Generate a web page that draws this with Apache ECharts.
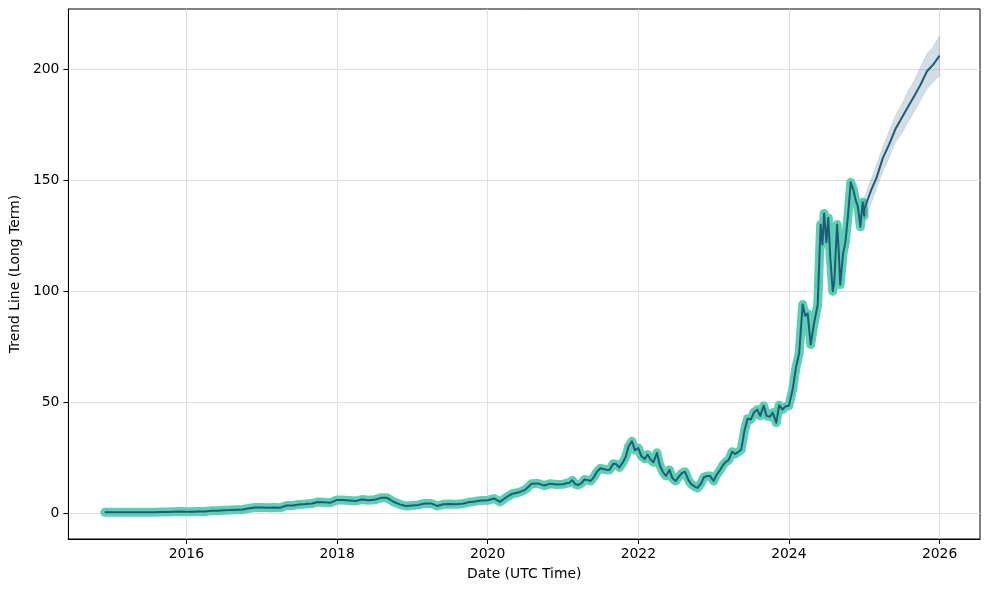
<!DOCTYPE html>
<html>
<head>
<meta charset="utf-8">
<script src="https://cdn.jsdelivr.net/npm/echarts@6/dist/echarts.min.js"></script>
<style>html,body{margin:0;padding:0;background:#fff}#c{width:989px;height:590px}</style>
</head>
<body>
<div id="c"></div>
<script>
// ---- Historical (observed) data ----
const histDates = [
 '2014-12-01','2015-01-01','2015-02-01','2015-03-01','2015-04-01','2015-05-01','2015-06-01','2015-07-01','2015-08-01','2015-09-01','2015-10-01','2015-11-01','2015-12-01',
 '2016-01-01','2016-02-01','2016-03-01','2016-04-01','2016-05-01','2016-06-01','2016-07-01','2016-08-01','2016-09-01','2016-10-01','2016-11-01','2016-12-01',
 '2017-01-01','2017-02-01','2017-03-01','2017-04-01','2017-05-01','2017-06-01','2017-07-01','2017-08-01','2017-09-01','2017-10-01','2017-11-01','2017-12-01',
 '2018-01-01','2018-02-01','2018-03-01','2018-04-01','2018-05-01','2018-06-01','2018-07-01','2018-08-01','2018-09-01','2018-10-01','2018-11-01','2018-12-01',
 '2019-01-01','2019-02-01','2019-03-01','2019-04-01','2019-05-01','2019-06-01','2019-07-01','2019-08-01','2019-09-01','2019-10-01','2019-11-01','2019-12-01',
 '2020-01-01','2020-02-01','2020-03-01','2020-04-01','2020-05-01','2020-06-01','2020-07-01','2020-08-01','2020-09-01','2020-10-01','2020-11-01','2020-12-01',
 '2021-01-01','2021-01-15','2021-02-01','2021-02-15','2021-03-01','2021-03-15','2021-04-01','2021-04-15','2021-05-01','2021-05-15','2021-06-01','2021-06-15',
 '2021-07-01','2021-07-15','2021-08-01','2021-08-15','2021-09-01','2021-09-15','2021-10-01','2021-10-15','2021-11-01','2021-11-15','2021-12-01','2021-12-15',
 '2022-01-01','2022-01-15','2022-02-01','2022-02-15','2022-03-01','2022-03-15','2022-04-01','2022-04-15','2022-05-01','2022-05-15','2022-06-01','2022-06-15',
 '2022-07-01','2022-07-15','2022-08-01','2022-08-15','2022-09-01','2022-09-15','2022-10-01','2022-10-15','2022-11-01','2022-11-15','2022-12-01','2022-12-15',
 '2023-01-01','2023-01-15','2023-02-01','2023-02-15','2023-03-01','2023-03-15','2023-04-01','2023-04-15','2023-05-01','2023-05-15','2023-06-01','2023-06-15',
 '2023-07-01','2023-07-15','2023-08-01','2023-08-15','2023-09-01','2023-09-15','2023-10-01','2023-10-15','2023-11-01','2023-11-15','2023-12-01','2023-12-15',
 '2024-01-01','2024-01-20','2024-02-05','2024-02-20','2024-03-08','2024-03-20','2024-04-01','2024-04-16','2024-05-01','2024-05-20',
 '2024-06-03','2024-06-12','2024-06-20','2024-07-01','2024-07-10','2024-07-20','2024-08-01','2024-08-08','2024-08-22','2024-08-30',
 '2024-09-06','2024-09-20','2024-10-01','2024-10-15','2024-10-27','2024-11-08','2024-11-20','2024-12-01','2024-12-13','2024-12-24','2024-12-31'
];
const histValues = [
 0.50,0.50,0.55,0.53,0.55,0.55,0.51,0.50,0.55,0.61,0.70,0.76,0.82,
 0.73,0.78,0.89,0.89,1.17,1.17,1.43,1.53,1.71,1.78,2.30,2.67,
 2.73,2.53,2.72,2.60,3.60,3.61,4.06,4.22,4.47,5.17,5.00,4.84,
 6.10,6.00,5.79,5.62,6.25,5.92,6.12,7.02,7.03,5.27,4.08,3.34,
 3.59,3.85,4.49,4.52,3.38,4.11,4.22,4.19,4.35,5.03,5.42,5.88,
 5.91,6.74,5.20,7.31,8.87,9.50,10.61,13.38,13.53,12.54,13.40,13.06,
 13.1,13.6,13.8,14.9,13.2,12.8,13.6,15.3,15.0,14.6,16.6,18.9,
 20.3,20.0,19.6,19.7,22.4,22.2,20.7,22.5,25.5,30.2,32.5,28.5,
 29.4,25.9,24.5,26.5,24.3,23.0,27.3,21.7,18.5,16.9,19.6,15.9,
 14.6,16.4,18.2,18.8,15.0,13.2,12.1,11.5,13.5,16.3,16.9,16.8,
 14.6,17.3,19.5,21.7,23.2,24.0,27.8,26.7,27.7,28.8,37.8,42.6,
 42.3,45.4,46.7,43.9,48.5,43.9,43.5,45.4,40.8,48.7,46.8,48.1,
 48.5,56,66,72,94,89,90,76,85,94,
 130,121,135,122,133,115,100,104,130,118,
 103,117,122,135,149,146,141,138,129,140,134
];
// ---- Forecast (trend) with uncertainty interval ----
const fcDates  = ['2025-01-01','2025-02-01','2025-03-01','2025-04-01','2025-05-01','2025-06-01','2025-07-01','2025-08-01','2025-09-01','2025-10-01','2025-11-01','2025-12-01','2026-01-01'];
const fcValues = [137,145,151,160,166,173,178,183,188,193,199,202,206];
const fcLower  = [132,139,146,154,160,167,171,176,181,186,191,194,197];
const fcUpper  = [142,150,157,165,172,179,184,190,195,201,207,210,215];
// ---- Axis ticks ----
const yTicks = [0,50,100,150,200];
const xTickYears = [2016,2018,2020,2022,2024,2026];

const t = d => Date.parse(d);
const actual = histDates.map((d,i)=>[t(d), histValues[i]]);
const fit = histDates.map((d,i)=>[t(d), histValues[i]]).concat(fcDates.map((d,i)=>[t(d), fcValues[i]]));
const band = fcDates.map((d,i)=>[t(d), fcLower[i], fcUpper[i]]);
const xTickValues = xTickYears.map(y=>Date.UTC(y,0,1));

const font = 'DejaVu Sans';
const chart = echarts.init(document.getElementById('c'), null, {renderer:'canvas'});
chart.setOption({
  animation:false,
  backgroundColor:'#fff',
  grid:{left:67,right:9,top:9,bottom:51,show:true,borderColor:'#000',borderWidth:1,backgroundColor:'transparent'},
  xAxis:{
    type:'value',
    min:Date.UTC(2014,5,8), max:Date.UTC(2026,6,16),
    name:'Date (UTC Time)', nameLocation:'middle', nameGap:28,
    nameTextStyle:{fontFamily:font,fontSize:13.9,color:'#000'},
    axisLine:{show:true,onZero:false,lineStyle:{color:'#000',width:1}},
    axisTick:{show:true,length:5,lineStyle:{color:'#000'},customValues:xTickValues},
    axisLabel:{fontFamily:font,fontSize:13.9,color:'#000',margin:8,customValues:xTickValues,
      formatter:v=>String(new Date(v).getUTCFullYear())},
    splitLine:{show:true,lineStyle:{color:'#e0e0e0',width:1}}
  },
  yAxis:{
    type:'value', min:-11.5, max:227,
    name:'Trend Line (Long Term)', nameLocation:'middle', nameGap:42,
    nameTextStyle:{fontFamily:font,fontSize:13.9,color:'#000'},
    axisLine:{show:true,lineStyle:{color:'#000',width:1}},
    axisTick:{show:true,length:5,lineStyle:{color:'#000'},customValues:yTicks},
    axisLabel:{fontFamily:font,fontSize:13.9,color:'#000',margin:9,customValues:yTicks},
    splitLine:{show:true,lineStyle:{color:'#e0e0e0',width:1}}
  },
  series:[
    {type:'line',name:'actual',data:actual,showSymbol:false,symbol:'none',
      lineStyle:{color:'#5dd0b4',width:9,join:'round',cap:'round'},z:2},
    {type:'custom',name:'band',data:band,z:3,silent:true,
      encode:{x:0,y:[1,2]},
      renderItem:(params,api)=>{
        if(params.dataIndex!==0) return null;
        const up=[],lo=[];
        for(let i=0;i<band.length;i++){
          up.push(api.coord([band[i][0],band[i][2]]));
          lo.push(api.coord([band[i][0],band[i][1]]));
        }
        return {type:'polygon',shape:{points:up.concat(lo.reverse())},
          style:{fill:'rgba(31,92,122,0.2)',stroke:'rgba(31,92,122,0.12)',lineWidth:1}};
      }},
    {type:'line',name:'trend',data:fit,showSymbol:false,symbol:'none',
      lineStyle:{color:'#1f5c7a',width:2,join:'round'},z:4}
  ]
});
</script>
</body>
</html>
